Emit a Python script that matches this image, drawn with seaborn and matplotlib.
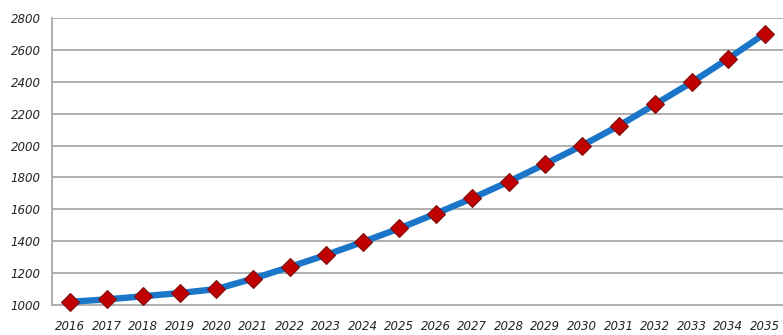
import matplotlib
matplotlib.use("Agg")
import matplotlib.pyplot as plt
import seaborn as sns
import pandas as pd
import numpy as np

years = [str(y) for y in range(2016, 2036)]
values = [1020, 1035, 1055, 1075, 1100, 1165, 1238, 1314, 1395, 1480, 1573,
          1670, 1774, 1885, 2000, 2123, 2259, 2396, 2545, 2702]
yticks = [1000, 1200, 1400, 1600, 1800, 2000, 2200, 2400, 2600, 2800]

sns.set_style("white")
plt.rcParams['font.family'] = ['DejaVu Sans']

df = pd.DataFrame({"year": years, "value": values})

fig = plt.figure(figsize=(7.83, 3.35), dpi=100)
ax = fig.add_axes([0.0664, 0.0896, 0.9336, 0.8567])

grid_c = "#a9a9a9"
for yv in yticks[1:]:
    ax.axhline(yv, color=grid_c, lw=1.3, zorder=0)

sns.lineplot(data=df, x="year", y="value", ax=ax, color="#1b76c9", lw=4.6,
             marker="D", markersize=9.3, markerfacecolor="#c00000",
             markeredgecolor="#7a1010", markeredgewidth=0.8, sort=False,
             clip_on=False, zorder=3)

ax.set_xlim(-0.5, len(years) - 0.5)
ax.set_ylim(1000, 2800)
ax.set_yticks(yticks)
ax.set_yticklabels([str(v) for v in yticks], fontsize=8.5, style="italic", color="#222222")
ax.set_xticks(range(len(years)))
ax.set_xticklabels(years, fontsize=8.5, style="italic", color="#222222")
ax.set_xticks(np.arange(-0.5, len(years), 1.0), minor=True)
ax.tick_params(axis="x", which="major", length=0, pad=11)
ax.tick_params(axis="x", which="minor", length=4, color=grid_c, width=1.2, direction="out")
ax.tick_params(axis="y", length=5, color=grid_c, width=1.2, pad=3)
ax.set_xlabel("")
ax.set_ylabel("")

for s in ["top", "right"]:
    ax.spines[s].set_visible(False)
for s in ["left", "bottom"]:
    ax.spines[s].set_color(grid_c)
    ax.spines[s].set_linewidth(1.3)

fig.savefig("out.png", dpi=100)
